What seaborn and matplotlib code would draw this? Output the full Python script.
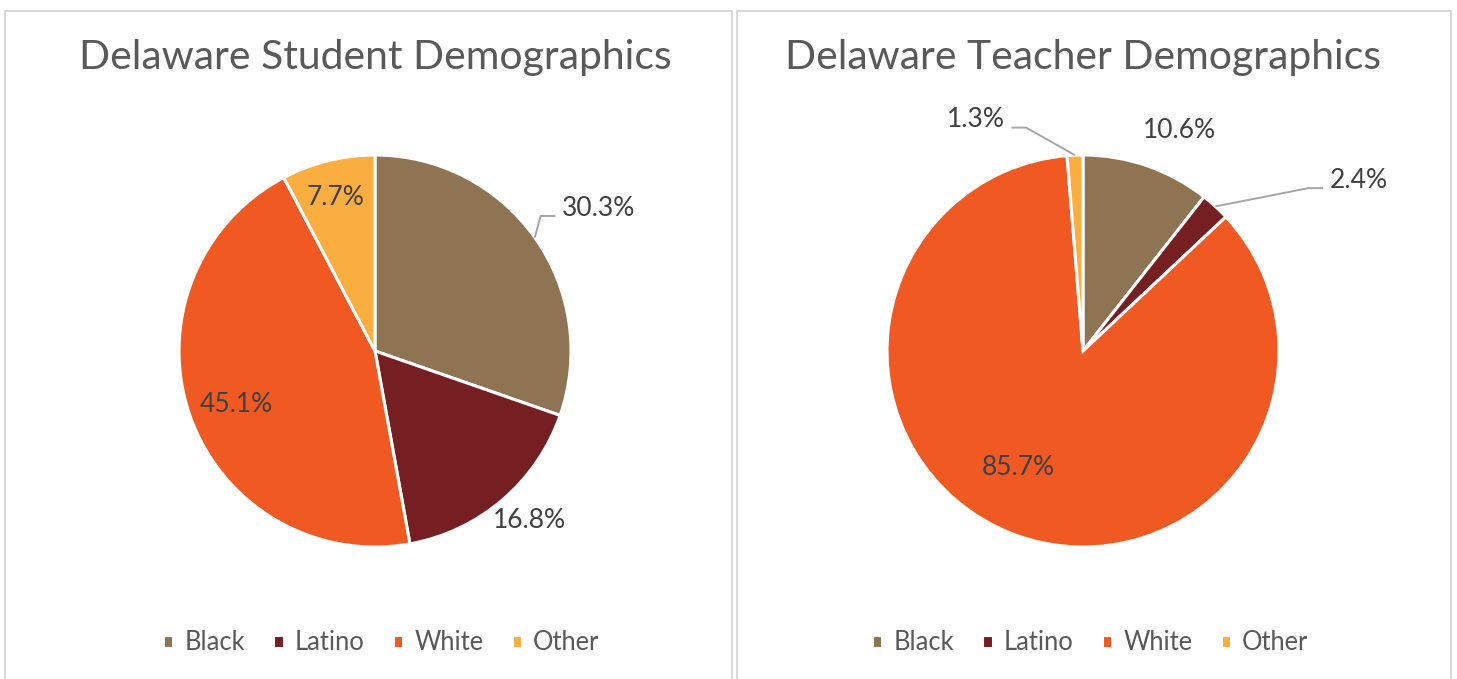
import numpy as np
import seaborn as sns
import matplotlib.pyplot as plt
from matplotlib.patches import Rectangle

# data
groups = ["Black", "Latino", "White", "Other"]
student_pct = [30.3, 16.8, 45.1, 7.7]
teacher_pct = [10.6, 2.4, 85.7, 1.3]
titles = ["Delaware Student Demographics", "Delaware Teacher Demographics"]
colors = ["#8F7453", "#761F23", "#F05A22", "#FBAE40"]

sns.set_theme(style="white")
plt.rcParams["font.family"] = ["Lato", "DejaVu Sans"]

W, H = 1457, 679
fig = plt.figure(figsize=(W / 100, H / 100), dpi=100)
fig.patch.set_facecolor("white")

R_PX = 196        # pie radius in pixels
HALF = 300        # half size of each axes in pixels
lim = HALF / R_PX

# label layout: (radius, angle deg, ha, leader line?)
label_pos = [
    [(1.20, 37.4, "left", True), (1.17, -47.5, "center", False),
     (0.76, 200.9, "center", False), (0.81, 104.3, "center", False)],
    [(1.23, 66.3, "center", False), (1.53, 34.7, "left", True),
     (0.68, 240.9, "center", False), (1.245, 108.65, "right", True)],
]
centers_x = [375, 1083]
center_y = 351
legend_x = [381, 1090]

for i, vals in enumerate([student_pct, teacher_pct]):
    cx = centers_x[i]
    ax = fig.add_axes([(cx - HALF) / W, (H - center_y - HALF) / H, 2 * HALF / W, 2 * HALF / H])
    wedges, _ = ax.pie(vals, colors=colors, startangle=90, counterclock=False,
                       wedgeprops=dict(edgecolor="white", linewidth=2.2))
    ax.set_xlim(-lim, lim)
    ax.set_ylim(-lim, lim)
    ax.set_aspect("auto")
    ax.axis("off")

    for w, v, (r, ang, ha, leader) in zip(wedges, vals, label_pos[i]):
        tx, ty = r * np.cos(np.radians(ang)), r * np.sin(np.radians(ang))
        ax.text(tx, ty, f"{v:.1f}%", ha=ha, va="center", fontsize=19, color="#404040")
        if leader:
            mid = np.radians((w.theta1 + w.theta2) / 2)
            sx, sy = np.cos(mid), np.sin(mid)
            sign = 1 if ha == "left" else -1
            ex = tx - sign * 0.033
            bx = ex - sign * 0.075
            ly = ty - 0.04
            ax.plot([sx, bx, ex], [sy, ly, ly], color="#A6A6A6", lw=1.4,
                    solid_capstyle="butt")

    fig.text(cx / W, (H - 58) / H, titles[i], ha="center", va="center",
             fontsize=29.4, color="#595959")
    fig.legend(wedges, groups, loc="center", bbox_to_anchor=(legend_x[i] / W, (H - 643) / H),
               ncol=4, frameon=False, fontsize=18.4, labelcolor="#595959",
               handlelength=0.42, handleheight=0.42, handletextpad=0.43, columnspacing=1.1)

# panel borders
for x0, x1 in [(5, 732), (737, 1451)]:
    fig.add_artist(Rectangle((x0 / W, -0.05), (x1 - x0) / W, (H - 11) / H + 0.05,
                             transform=fig.transFigure, fill=False,
                             edgecolor="#D9D9D9", linewidth=1.5))

fig.savefig("out.png", dpi=100)
